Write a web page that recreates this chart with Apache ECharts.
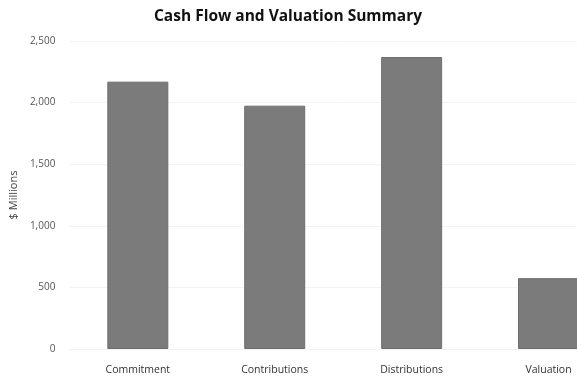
<!DOCTYPE html>
<html>
<head>
<meta charset="utf-8">
<script src="https://cdn.jsdelivr.net/npm/echarts@6/dist/echarts.min.js"></script>
<style>
  html, body { margin: 0; padding: 0; background: #fff; overflow: hidden; }
  #chart { width: 620px; height: 381px; }
</style>
</head>
<body>
<div id="chart"></div>
<script>
// Cash flow summary, $ millions
const categories = ['Commitment', 'Contributions', 'Distributions', 'Valuation'];
const amounts = [2170, 1975, 2370, 575];
const yTicks = [0, 500, 1000, 1500, 2000, 2500];

// The plot runs a little past the right edge of the page, so the last bar is cut off
const chart = echarts.init(document.getElementById('chart'));
chart.setOption({
  animation: false,
  backgroundColor: '#ffffff',
  title: {
    text: 'Cash Flow and Valuation Summary',
    left: 283,
    top: 4,
    textAlign: 'center',
    textStyle: { fontFamily: 'Open Sans', fontWeight: 'bold', fontSize: 15.5, color: '#111' }
  },
  grid: { left: 67, top: 41, width: 550, height: 308, containLabel: false },
  xAxis: {
    type: 'category',
    data: categories,
    axisLine: { show: false },
    axisTick: { show: false },
    axisLabel: { margin: 16, fontFamily: 'Open Sans', fontSize: 10.5, color: '#333' }
  },
  yAxis: {
    type: 'value',
    min: yTicks[0],
    max: yTicks[yTicks.length - 1],
    interval: 500,
    name: '$ Millions',
    nameLocation: 'middle',
    nameGap: 46,
    nameTextStyle: { fontFamily: 'Open Sans', fontSize: 11, color: '#444' },
    axisLine: { show: false },
    axisTick: { show: false },
    splitLine: { lineStyle: { color: '#f3f3f3', width: 1 } },
    axisLabel: {
      margin: 14,
      fontFamily: 'Open Sans',
      fontSize: 10,
      color: '#555',
      formatter: v => v.toLocaleString('en-US')
    }
  },
  series: [{
    type: 'bar',
    data: amounts,
    barWidth: 61,
    itemStyle: { color: '#7b7b7b', borderColor: '#6e6e6e', borderWidth: 1 }
  }]
});
</script>
</body>
</html>
